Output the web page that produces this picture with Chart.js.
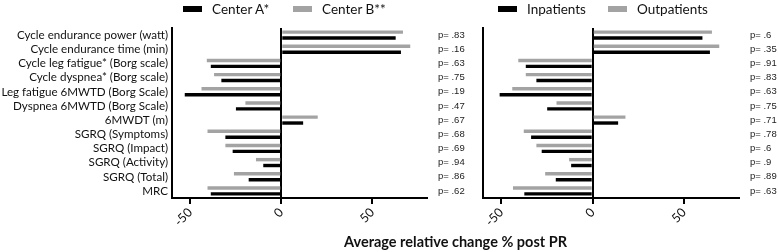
<!DOCTYPE html>
<html>
<head>
<meta charset="utf-8">
<script src="https://cdn.jsdelivr.net/npm/chart.js@4"></script>
<style>
  body { margin: 0; width: 778px; height: 252px; position: relative; background: #fff; overflow: hidden; font-family: Lato, sans-serif; }
  .wrap { position: absolute; top: 0; height: 252px; }
  #w1 { left: 0; width: 472px; }
  #w2 { left: 472px; width: 306px; }
  .lg { position: absolute; top: 2px; font-size: 13.5px; color: #111; line-height: 14px; white-space: nowrap; }
  .lg span { display: inline-block; width: 19px; height: 6px; margin-right: 10px; vertical-align: 2px; }
  #title { position: absolute; left: 172px; width: 567px; top: 233px; text-align: center; font-weight: bold; font-size: 14.5px; color: #111; }
</style>
</head>
<body>
<div class="wrap" id="w1"><canvas id="c1"></canvas></div>
<div class="wrap" id="w2"><canvas id="c2"></canvas></div>
<div id="legends"></div>
<div id="title">Average relative change % post PR</div>
<script>
/*********************************************************
 DATA
*********************************************************/
const categories = [
  "Cycle endurance power (watt)",
  "Cycle endurance time (min)",
  "Cycle leg fatigue* (Borg scale)",
  "Cycle dyspnea* (Borg scale)",
  "Leg fatigue 6MWTD (Borg Scale)",
  "Dyspnea 6MWTD (Borg Scale)",
  "6MWDT (m)",
  "SGRQ (Symptoms)",
  "SGRQ (Impact)",
  "SGRQ (Activity)",
  "SGRQ (Total)",
  "MRC"
];

const centerA = [62.8, 65.7, -38.7, -32.9, -53, -24.9, 12, -30.7, -26.7, -9.9, -17.9, -38.7];
const centerB = [66.8, 70.8, -40.9, -36.9, -43.8, -19.7, 20, -40.5, -30.7, -13.9, -26, -40.5];
const pCenter = ["p= .83", "p= .16", "p= .63", "p= .75", "p= .19", "p= .47", "p= .67", "p= .68", "p= .69", "p= .94", "p= .86", "p= .62"];

const inpatients  = [60, 64.1, -36.6, -30.8, -50.9, -24.9, 13.9, -33.7, -27.9, -11.8, -20.2, -37.4];
const outpatients = [65.2, 69.2, -40.7, -36.6, -44, -19.8, 17.9, -37.7, -30.8, -12.9, -26, -43.6];
const pPatient = ["p= .6", "p= .35", "p= .91", "p= .83", "p= .63", "p= .75", "p= .71", "p= .78", "p= .6", "p= .9", "p= .89", "p= .63"];

const xTicks = [-50, 0, 50];

/*********************************************************
 STYLE
*********************************************************/
const BLACK = "#000000";
const GREY  = "#a3a3a3";

/*********************************************************
 LEGEND (HTML)
*********************************************************/
const legends = document.getElementById("legends");
function legendItem(left, color, text) {
  const d = document.createElement("div");
  d.className = "lg";
  d.style.left = left + "px";
  d.innerHTML = '<span style="background:' + color + '"></span>' + text;
  legends.appendChild(d);
}
legendItem(183, BLACK, "Center A*");
legendItem(293, GREY, "Center B**");
legendItem(498, BLACK, "Inpatients");
legendItem(608, GREY, "Outpatients");

/*********************************************************
 CHART OPTIONS
*********************************************************/
function makeOptions(showLabels, pLabels, yWidth, pWidth, pPad) {
  return {
    indexAxis: "y",
    responsive: false,
    animation: false,
    layout: { padding: { top: 28, bottom: 0, left: 0, right: 0 } },
    plugins: { legend: { display: false }, tooltip: { enabled: false } },
    scales: {
      x: {
        type: "linear",
        min: -60,
        max: 80,
        afterBuildTicks: s => { s.ticks = xTicks.map(v => ({ value: v })); },
        afterFit: s => { s.height = 54; },
        grid: {
          color: c => (c.tick && c.tick.value === 0) ? BLACK : "rgba(0,0,0,0)",
          tickColor: BLACK,
          lineWidth: 2,
          tickLength: 6
        },
        border: { display: true, color: BLACK, width: 2 },
        ticks: {
          minRotation: 45,
          maxRotation: 45,
          padding: 1,
          color: "#111",
          font: { family: "Lato", size: 12.5 }
        }
      },
      y: {
        type: "category",
        offset: true,
        afterFit: s => { s.width = yWidth; },
        grid: { display: false, drawTicks: false },
        border: { display: true, color: BLACK, width: 2 },
        ticks: {
          display: showLabels,
          autoSkip: false,
          padding: 4,
          color: "#111",
          font: { family: "Lato", size: 11.6 }
        }
      },
      p: {
        type: "category",
        position: "right",
        labels: pLabels,
        offset: true,
        afterFit: s => { s.width = pWidth; },
        grid: { display: false, drawTicks: false },
        border: { display: false },
        ticks: {
          autoSkip: false,
          padding: pPad,
          color: "#222",
          font: { family: "Liberation Sans", size: 9.5 }
        }
      }
    }
  };
}

function makeData(gray, black, grayLabel, blackLabel) {
  return {
    labels: categories,
    datasets: [
      { label: grayLabel, data: gray, backgroundColor: GREY, categoryPercentage: 0.83, barPercentage: 0.58 },
      { label: blackLabel, data: black, backgroundColor: BLACK, categoryPercentage: 0.83, barPercentage: 0.58 }
    ]
  };
}

const c1 = document.getElementById("c1");
c1.width = 472; c1.height = 252;
new Chart(c1.getContext("2d"), {
  type: "bar",
  data: makeData(centerB, centerA, "Center B**", "Center A*"),
  options: makeOptions(true, pCenter, 172, 45, 11)
});

const c2 = document.getElementById("c2");
c2.width = 306; c2.height = 252;
new Chart(c2.getContext("2d"), {
  type: "bar",
  data: makeData(outpatients, inpatients, "Outpatients", "Inpatients"),
  options: makeOptions(false, pPatient, 11, 39, 11)
});
</script>
</body>
</html>
